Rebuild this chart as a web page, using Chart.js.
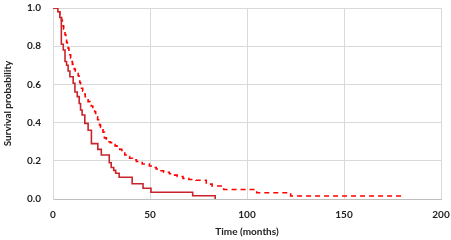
<!DOCTYPE html>
<html>
<head>
<meta charset="utf-8">
<script src="https://cdn.jsdelivr.net/npm/chart.js@4"></script>
<style>
  html, body { margin: 0; padding: 0; background: #fff; }
  #wrap { width: 451px; height: 240px; }
</style>
</head>
<body>
<div id="wrap"><canvas id="kmChart" width="451" height="240"></canvas></div>
<script>
// Kaplan-Meier curves (time in months, survival probability)
const solidTime = [0, 2.5, 3.5, 4.3, 5.3, 6.2, 7.0, 7.8, 8.7, 10.4, 11.3, 12.5, 13.5, 14.2, 15.0, 16.4, 18.1, 19.8, 23.1, 24.9, 29.0, 30.0, 31.3, 32.3, 34.1, 40.8, 46.4, 50.5, 72.0, 83.6];
const solidSurv = [1.0, 0.98, 0.95, 0.81, 0.78, 0.72, 0.70, 0.67, 0.64, 0.606, 0.56, 0.536, 0.50, 0.466, 0.44, 0.396, 0.36, 0.29, 0.26, 0.23, 0.19, 0.165, 0.15, 0.135, 0.114, 0.08, 0.056, 0.035, 0.017, 0];

const dashedTime = [0, 2.5, 3.5, 4.4, 4.8, 5.2, 5.5, 5.9, 6.2, 6.6, 7.0, 7.4, 7.8, 8.2, 8.7, 9.1, 9.6, 10.0, 10.4, 11.0, 11.5, 12.2, 13.0, 13.4, 13.8, 14.2, 14.7, 15.3, 16.0, 16.6, 17.3, 18.1, 19.0, 19.7, 20.5, 21.0, 21.5, 22.0, 22.5, 23.0, 23.5, 24.0, 24.5, 25.1, 25.8, 26.5, 27.5, 29.5, 31.0, 32.0, 33.0, 34.4, 35.5, 37.0, 38.2, 39.5, 41.0, 43.0, 46.0, 49.7, 51.5, 53.2, 55.0, 57.0, 60.0, 62.0, 64.0, 67.0, 70.0, 73.7, 79.0, 82.0, 88.0, 105.0, 122.5, 181.4];
const dashedSurv = [1.0, 0.98, 0.95, 0.935, 0.92, 0.905, 0.89, 0.875, 0.86, 0.84, 0.82, 0.805, 0.79, 0.772, 0.755, 0.738, 0.72, 0.705, 0.69, 0.68, 0.67, 0.657, 0.645, 0.628, 0.61, 0.595, 0.58, 0.565, 0.55, 0.535, 0.52, 0.51, 0.50, 0.487, 0.475, 0.466, 0.457, 0.443, 0.43, 0.415, 0.40, 0.388, 0.375, 0.362, 0.35, 0.32, 0.30, 0.295, 0.285, 0.278, 0.27, 0.26, 0.245, 0.23, 0.222, 0.213, 0.205, 0.196, 0.183, 0.173, 0.165, 0.157, 0.148, 0.14, 0.132, 0.125, 0.118, 0.108, 0.102, 0.098, 0.078, 0.068, 0.05, 0.033, 0.016, 0.016];

const xTicks = [0, 50, 100, 150, 200];
const yTicks = [0, 0.2, 0.4, 0.6, 0.8, 1.0];

function toPoints(xs, ys) {
    return xs.map((x, i) => ({ x: x, y: ys[i] }));
}

const tickFont = { family: 'Lato', size: 10, weight: 'bold' };

const ctx = document.getElementById('kmChart').getContext('2d');
new Chart(ctx, {
    type: 'line',
    data: {
        datasets: [{
            label: 'Group A',
            data: toPoints(solidTime, solidSurv),
            borderColor: '#c8252b',
            borderWidth: 1.6,
            stepped: 'before',
            pointRadius: 0,
            fill: false
        }, {
            label: 'Group B',
            data: toPoints(dashedTime, dashedSurv),
            borderColor: '#ff0000',
            borderWidth: 1.6,
            borderDash: [5, 4],
            stepped: 'before',
            pointRadius: 0,
            fill: false
        }]
    },
    options: {
        responsive: false,
        animation: false,
        layout: { padding: { top: 8, right: 10, bottom: 0, left: 0 } },
        plugins: {
            legend: { display: false },
            tooltip: { enabled: false }
        },
        scales: {
            x: {
                type: 'linear',
                min: 0,
                max: 200,
                afterBuildTicks: axis => { axis.ticks = xTicks.map(v => ({ value: v })); },
                afterFit: axis => {
                    axis.height = 41;
                    axis.paddingLeft = 0;
                    axis.paddingRight = 0;
                },
                grid: { color: '#d9d9d9', drawTicks: false },
                border: { color: '#bfbfbf' },
                ticks: { color: '#222', font: tickFont, padding: 10, maxRotation: 0 },
                title: {
                    display: true,
                    text: 'Time (months)',
                    color: '#222',
                    font: tickFont,
                    padding: { top: 0, bottom: 2 }
                }
            },
            y: {
                min: 0,
                max: 1,
                afterBuildTicks: axis => { axis.ticks = yTicks.map(v => ({ value: v })); },
                afterFit: axis => {
                    axis.width = 53;
                    axis.paddingTop = 0;
                    axis.paddingBottom = 0;
                },
                grid: { color: '#d9d9d9', drawTicks: false },
                border: { color: '#d9d9d9' },
                ticks: {
                    color: '#222',
                    font: tickFont,
                    padding: 12,
                    callback: v => v.toFixed(1)
                },
                title: {
                    display: true,
                    text: 'Survival probability',
                    color: '#222',
                    font: tickFont,
                    padding: { top: 2, bottom: 0 }
                }
            }
        }
    }
});
</script>
</body>
</html>
